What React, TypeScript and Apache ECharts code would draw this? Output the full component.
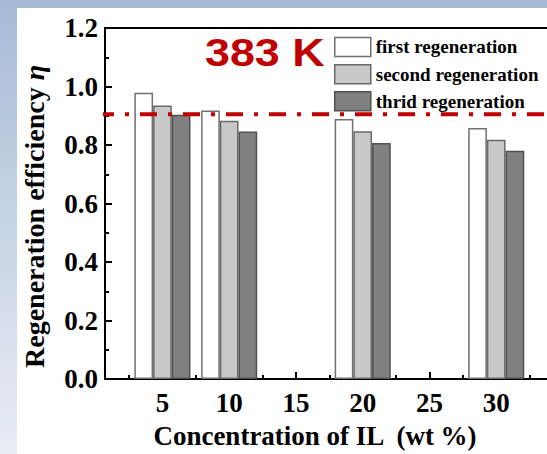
import React, { useEffect, useRef } from "react";
import * as echarts from "echarts";

const concentrations = [5, 10, 20, 30];
const firstRegen = [0.979, 0.918, 0.889, 0.858];
const secondRegen = [0.935, 0.883, 0.847, 0.818];
const thirdRegen = [0.903, 0.846, 0.807, 0.78];
const seriesNames = ["first regeneration", "second regeneration", "thrid regeneration"];
const referenceLevel = 0.905;
const referenceSpan = [0.1, 35];
const xMajorTicks = [5, 10, 15, 20, 25, 30];
const xMinorTicks = [2.5, 7.5, 12.5, 17.5, 22.5, 27.5, 32.5];
const xRange = [0.7, 35];
const yTicks = [0, 0.2, 0.4, 0.6, 0.8, 1.0, 1.2];

const SERIF = '"Liberation Serif", "Times New Roman", serif';

export default function App() {
  const ref = useRef<HTMLDivElement>(null);
  useEffect(() => {
    if (!ref.current) return;
    const chart = echarts.init(ref.current, null, { renderer: "svg" });
    const pairs = (vals: number[]) => concentrations.map((c, i) => [c, vals[i]]);
    const barStyles = [
      { color: "#ffffff", borderColor: "#707070", borderWidth: 1.5 },
      { color: "#c8c8c8", borderColor: "#6a6a6a", borderWidth: 1.5 },
      { color: "#808080", borderColor: "#505050", borderWidth: 1.5 },
    ];
    const option: any = {
      animation: false,
      graphic: [
        {
          type: "rect",
          z: -100,
          shape: { x: 0, y: 0, width: 600, height: 454 },
          style: {
            fill: new echarts.graphic.LinearGradient(0, 0, 0, 1, [
              { offset: 0, color: "#a5bbd6" },
              { offset: 1, color: "#e9edf4" },
            ]),
          },
        },
        {
          type: "rect",
          z: -99,
          shape: { x: 17, y: 8, width: 583, height: 446 },
          style: { fill: "#ffffff" },
        },
        {
          type: "text",
          x: 205,
          y: 33,
          scaleX: 1.15,
          z: 10,
          style: {
            text: "383 K",
            fill: "#c00000",
            font: 'bold 39px "Liberation Sans", Arial, sans-serif',
          },
        },
      ],
      legend: {
        orient: "vertical",
        left: 334,
        top: 36.7,
        padding: 0,
        itemWidth: 36,
        itemHeight: 19,
        itemGap: 6.7,
        itemStyle: { borderWidth: 1.5 },
        icon: "rect",
        data: seriesNames,
        textStyle: { fontFamily: SERIF, fontWeight: "bold", fontSize: 19, color: "#000" },
      },
      grid: { left: 105, top: 28, right: 7, bottom: 74, show: true, borderColor: "#000", borderWidth: 2 },
      xAxis: [
        {
          type: "value",
          min: xRange[0],
          max: xRange[1],
          name: "Concentration of IL  (wt %)",
          nameLocation: "middle",
          nameGap: 43,
          nameTextStyle: {
            fontFamily: SERIF,
            fontWeight: "bold",
            fontSize: 27,
            color: "#000",
            padding: [0, 38, 0, 0],
          },
          axisLine: { show: true, lineStyle: { color: "#000", width: 2 } },
          axisTick: {
            show: true,
            inside: true,
            length: 7,
            customValues: xMajorTicks,
            lineStyle: { color: "#000", width: 2 },
          },
          splitLine: { show: false },
          axisLabel: {
            customValues: xMajorTicks,
            margin: 10,
            fontFamily: SERIF,
            fontWeight: "bold",
            fontSize: 27,
            color: "#000",
          },
        },
        {
          type: "value",
          position: "bottom",
          min: xRange[0],
          max: xRange[1],
          axisLine: { show: false },
          axisTick: {
            show: true,
            inside: true,
            length: 4,
            customValues: xMinorTicks,
            lineStyle: { color: "#000", width: 2 },
          },
          axisLabel: { show: false },
          splitLine: { show: false },
        },
      ],
      yAxis: {
        type: "value",
        min: yTicks[0],
        max: yTicks[yTicks.length - 1],
        interval: 0.2,
        name: "Regeneration efficiency {i|η}",
        nameLocation: "middle",
        nameGap: 57,
        nameRotate: 90,
        nameTextStyle: {
          fontFamily: SERIF,
          fontWeight: "bold",
          fontSize: 28,
          color: "#000",
          padding: [0, 26, 0, 0],
          rich: {
            i: { fontFamily: SERIF, fontWeight: "bold", fontStyle: "italic", fontSize: 28, color: "#000" },
          },
        },
        axisLine: { show: true, lineStyle: { color: "#000", width: 2 } },
        axisTick: { show: true, inside: true, length: 7, lineStyle: { color: "#000", width: 2 } },
        minorTick: { show: true, splitNumber: 2, length: 4, lineStyle: { color: "#000", width: 2 } },
        splitLine: { show: false },
        axisLabel: {
          margin: 7,
          fontFamily: SERIF,
          fontWeight: "bold",
          fontSize: 27,
          color: "#000",
          formatter: (v: number) => v.toFixed(1),
        },
      },
      series: [
        ...[firstRegen, secondRegen, thirdRegen].map((vals, i) => ({
          name: seriesNames[i],
          type: "bar",
          data: pairs(vals),
          barWidth: 18.7,
          barGap: "0%",
          itemStyle: barStyles[i],
          z: 2,
        })),
        {
          type: "line",
          data: referenceSpan.map((x) => [x, referenceLevel]),
          symbol: "none",
          clip: false,
          z: 5,
          lineStyle: { color: "#c00000", width: 4, type: [17, 11, 4, 11], cap: "butt" },
          silent: true,
        },
      ],
    };
    chart.setOption(option);
    return () => chart.dispose();
  }, []);
  return (
    <div
      style={{ position: "absolute", left: 0, top: 0, width: 547, height: 454, overflow: "hidden" }}
    >
      <div ref={ref} style={{ position: "absolute", left: 0, top: 0, width: 570, height: 454 }} />
    </div>
  );
}
